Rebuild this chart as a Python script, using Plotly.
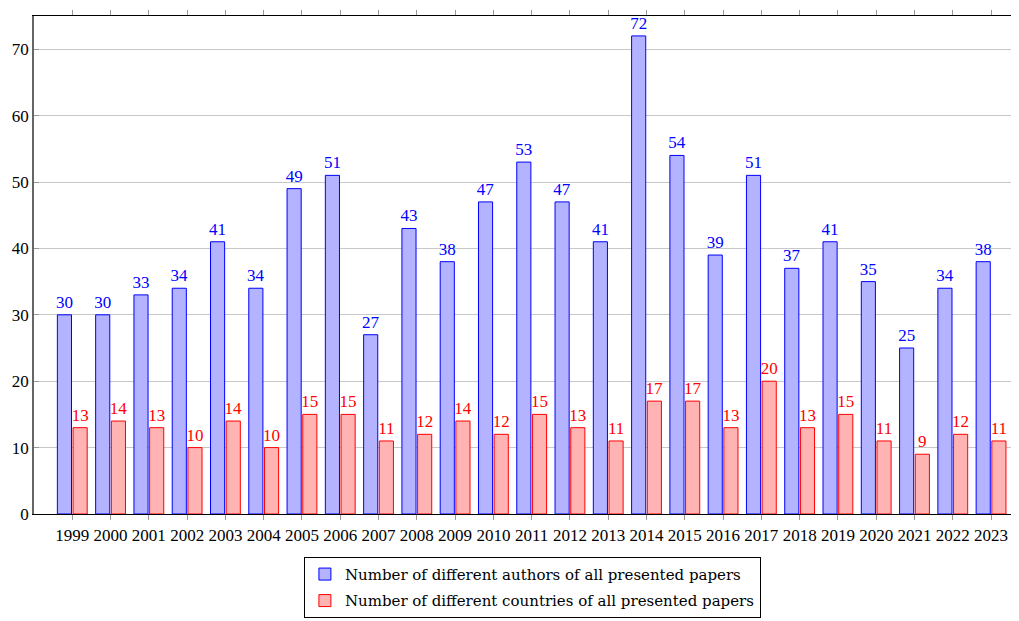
import plotly.graph_objects as go

years = list(range(1999, 2024))
authors = [30, 30, 33, 34, 41, 34, 49, 51, 27, 43, 38, 47, 53, 47, 41, 72, 54, 39, 51, 37, 41, 35, 25, 34, 38]
countries = [13, 14, 13, 10, 14, 10, 15, 15, 11, 12, 14, 12, 15, 13, 11, 17, 17, 13, 20, 13, 15, 11, 9, 12, 11]
names = ["Number of different authors of all presented papers",
         "Number of different countries of all presented papers"]

FONT = "Liberation Serif"
LFONT = "DejaVu Serif"

fig = go.Figure()
fig.add_trace(go.Bar(
    x=years, y=authors, name=names[0], legendgroup="a",
    marker=dict(color="rgb(179,179,255)", line=dict(color="rgb(0,0,255)", width=1)),
    text=[str(v) for v in authors], textposition="outside", constraintext="none",
    textfont=dict(color="rgb(0,0,255)", size=17, family=FONT),
    cliponaxis=False,
))
fig.add_trace(go.Bar(
    x=years, y=countries, name=names[1], legendgroup="b",
    marker=dict(color="rgb(255,179,179)", line=dict(color="rgb(255,0,0)", width=1)),
    text=[str(v) for v in countries], textposition="outside", constraintext="none",
    textfont=dict(color="rgb(255,0,0)", size=17, family=FONT),
    cliponaxis=False,
))

fig.update_layout(
    width=1011, height=613,
    margin=dict(l=26, r=0, t=8, b=107),
    paper_bgcolor="white", plot_bgcolor="white",
    barmode="group", bargap=0.18, bargroupgap=0.1,
    font=dict(family=FONT, size=17, color="black"),
    showlegend=True,
    uniformtext=dict(mode=False),
    legend=dict(
        x=0.506, xanchor="center", y=-0.086, yanchor="top",
        bordercolor="black", borderwidth=1, bgcolor="white",
        font=dict(family=LFONT, size=15), tracegroupgap=4,
    ),
)
fig.update_xaxes(
    range=[1998, 2023.73], tickmode="array", tickvals=years,
    ticktext=[str(y) for y in years],
    ticks="outside", ticklen=5, tickcolor="#999999", tickwidth=1,
    showline=True, linecolor="black", linewidth=1.2, mirror="ticks",
    showgrid=False, zeroline=False,
    tickfont=dict(family=FONT, size=17),
)
fig.update_yaxes(
    range=[0, 75], tickvals=[0, 10, 20, 30, 40, 50, 60, 70],
    ticks="inside", ticklen=5, tickcolor="#999999",
    showline=True, linecolor="#666666", linewidth=1.5,
    showgrid=True, gridcolor="#c8c8c8", gridwidth=1,
    zeroline=False,
    tickfont=dict(family=FONT, size=17),
)

fig.write_html("out.html")
